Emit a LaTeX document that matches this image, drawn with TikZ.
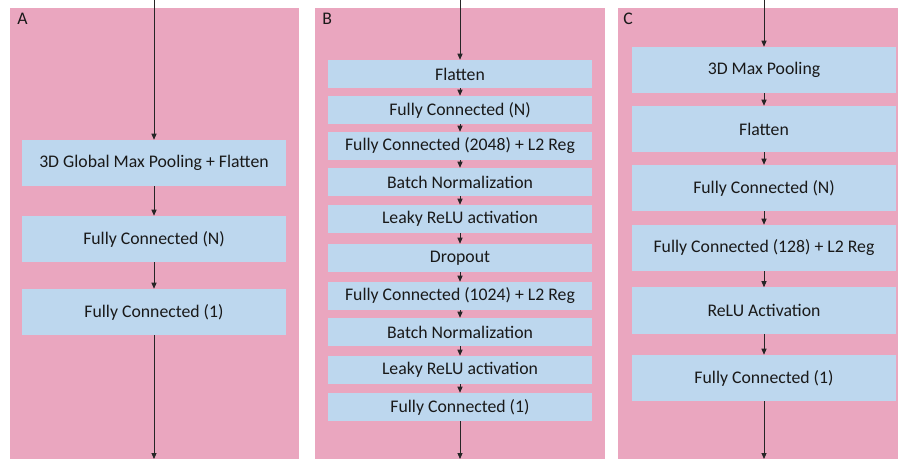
\documentclass[tikz,border=0pt]{standalone}
\usepackage{fontspec}
\setmainfont{Carlito}
\usepackage{tikz}
\usetikzlibrary{arrows.meta}

\definecolor{panelpink}{HTML}{EAA6BF}
\definecolor{layerblue}{HTML}{BDD7EE}

\begin{document}
\begin{tikzpicture}[x=0.75pt,y=-0.75pt]
   \tikzstyle{panel}=[fill=panelpink, draw=none]
   \tikzstyle{every node}=[font=\fontsize{13.3}{16}\selectfont, text=black!90]
   \tikzstyle{layer}=[fill=layerblue, draw=none, minimum width=198pt, inner sep=0pt]
   \tikzstyle{tall layer}=[layer, minimum height=34.5pt]
   \tikzstyle{thin layer}=[layer, minimum height=21pt]
   \tikzstyle{flow}=[draw=black!85, line width=0.6pt, -{Triangle[length=4.5pt,width=3.8pt]}]
   \tikzstyle{tag}=[anchor=base west, inner sep=0pt]

\useasboundingbox (0,0) rectangle (898,459);

% panels
\fill[panel] (10,8) rectangle (299,459);
\fill[panel] (315,8) rectangle (605,459);
\fill[panel] (618,8) rectangle (898,459);
\node[tag] (tagA) at (17,25) {A};
\node[tag] (tagB) at (322,25) {B};
\node[tag] (tagC) at (623,25) {C};

% A
\coordinate (aIn) at (154,0);
\coordinate (aOut) at (154,459);
\node[tall layer] (a1) at (154,163) {3D Global Max Pooling + Flatten};
\node[tall layer] (a2) at (154,239) {Fully Connected (N)};
\node[tall layer] (a3) at (154,312) {Fully Connected (1)};
\draw[flow] (aIn) -- (a1);
\draw[flow] (a1) -- (a2);
\draw[flow] (a2) -- (a3);
\draw[flow] (a3) -- (aOut);

% B
\coordinate (bIn) at (460,0);
\coordinate (bOut) at (460,459);
\node[thin layer] (b1) at (460,74) {Flatten};
\node[thin layer] (b2) at (460,110) {Fully Connected (N)};
\node[thin layer] (b3) at (460,146) {Fully Connected (2048) + L2 Reg};
\node[thin layer] (b4) at (460,182) {Batch Normalization};
\node[thin layer] (b5) at (460,219) {Leaky ReLU activation};
\node[thin layer] (b6) at (460,258) {Dropout};
\node[thin layer] (b7) at (460,296) {Fully Connected (1024) + L2 Reg};
\node[thin layer] (b8) at (460,332) {Batch Normalization};
\node[thin layer] (b9) at (460,370) {Leaky ReLU activation};
\node[thin layer] (b10) at (460,407) {Fully Connected (1)};
\draw[flow] (bIn) -- (b1);
\draw[flow] (b1) -- (b2);
\draw[flow] (b2) -- (b3);
\draw[flow] (b3) -- (b4);
\draw[flow] (b4) -- (b5);
\draw[flow] (b5) -- (b6);
\draw[flow] (b6) -- (b7);
\draw[flow] (b7) -- (b8);
\draw[flow] (b8) -- (b9);
\draw[flow] (b9) -- (b10);
\draw[flow] (b10) -- (bOut);

% C
\coordinate (cIn) at (764,0);
\coordinate (cOut) at (764,459);
\node[tall layer] (c1) at (764,70) {3D Max Pooling};
\node[tall layer] (c2) at (764,129) {Flatten};
\node[tall layer] (c3) at (764,188) {Fully Connected (N)};
\node[tall layer] (c4) at (764,248) {Fully Connected (128) + L2 Reg};
\node[tall layer] (c5) at (764,310.5) {ReLU Activation};
\node[tall layer] (c6) at (764,378) {Fully Connected (1)};
\draw[flow] (cIn) -- (c1);
\draw[flow] (c1) -- (c2);
\draw[flow] (c2) -- (c3);
\draw[flow] (c3) -- (c4);
\draw[flow] (c4) -- (c5);
\draw[flow] (c5) -- (c6);
\draw[flow] (c6) -- (cOut);

\end{tikzpicture}
\end{document}
